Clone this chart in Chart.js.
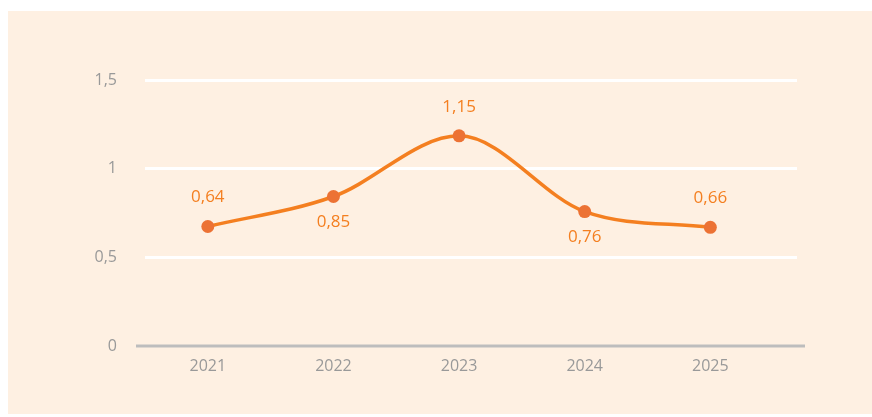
<!DOCTYPE html>
<html lang="en">
<head>
    <meta charset="UTF-8">
    <title>Yearly values</title>
    <script src="https://cdn.jsdelivr.net/npm/chart.js"></script>
    <style>
        html, body {
            margin: 0;
            padding: 0;
            background: #ffffff;
            width: 872px;
            height: 417px;
            overflow: hidden;
        }

        .panel {
            position: absolute;
            left: 8px;
            top: 11px;
            right: 0;
            bottom: 3px;
            background: #FEF0E2;
        }

        .chart-box {
            position: absolute;
            left: 0;
            top: 0;
            width: 872px;
            height: 417px;
        }
    </style>
</head>
<body>
    <div class="panel"></div>
    <div class="chart-box">
        <canvas id="lineChart" width="872" height="417"></canvas>
    </div>

    <script>
        // years on the x axis
        const years = [2021, 2022, 2023, 2024, 2025];
        // point heights
        const values = [0.674, 0.843, 1.185, 0.758, 0.669];
        // value labels as printed on the picture
        const valueLabels = ["0,64", "0,85", "1,15", "0,76", "0,66"];
        const yTicks = [0, 0.5, 1, 1.5];

        const fontFamily = "'Open Sans', sans-serif";

        // grey baseline at zero, a bit wider than the plot area
        const baseLine = {
            id: "baseLine",
            beforeDatasetsDraw(chart) {
                const { ctx, chartArea } = chart;
                const y = chart.scales.y.getPixelForValue(0);
                ctx.save();
                ctx.strokeStyle = "#BDBDBD";
                ctx.lineWidth = 3;
                ctx.beginPath();
                ctx.moveTo(chartArea.left - 9, y);
                ctx.lineTo(chartArea.right + 8, y);
                ctx.stroke();
                ctx.restore();
            }
        };

        // value labels, alternating above / below the points
        const valueLabelPlugin = {
            id: "valueLabels",
            afterDatasetsDraw(chart) {
                const { ctx } = chart;
                const meta = chart.getDatasetMeta(0);
                ctx.save();
                ctx.fillStyle = "#F47F20";
                ctx.font = "17px " + fontFamily;
                ctx.textAlign = "center";
                ctx.textBaseline = "middle";
                meta.data.forEach((pt, i) => {
                    const dy = i % 2 === 0 ? -29 : 26;
                    ctx.fillText(valueLabels[i], pt.x, pt.y + dy);
                });
                ctx.restore();
            }
        };

        const ctx = document.getElementById("lineChart").getContext("2d");

        new Chart(ctx, {
            type: "line",
            data: {
                datasets: [{
                    data: years.map((yr, i) => ({ x: yr, y: values[i] })),
                    borderColor: "#F47F20",
                    borderWidth: 3.5,
                    cubicInterpolationMode: "monotone",
                    pointRadius: 6.5,
                    pointBackgroundColor: "#EC7234",
                    pointBorderColor: "#EC7234",
                    pointBorderWidth: 0
                }]
            },
            options: {
                responsive: false,
                animation: false,
                events: [],
                layout: {
                    padding: { top: 80, right: 75, left: 0, bottom: 0 }
                },
                plugins: {
                    legend: { display: false },
                    tooltip: { enabled: false }
                },
                scales: {
                    x: {
                        type: "linear",
                        min: 2020.5,
                        max: 2025.69,
                        afterBuildTicks: scale => {
                            scale.ticks = years.map(v => ({ value: v }));
                        },
                        afterFit: scale => { scale.height = 71; },
                        grid: { display: false, drawTicks: false },
                        border: { display: false },
                        ticks: {
                            padding: 11,
                            color: "#999999",
                            font: { family: fontFamily, size: 16 },
                            callback: v => String(v)
                        }
                    },
                    y: {
                        min: 0,
                        max: 1.5,
                        afterBuildTicks: scale => {
                            scale.ticks = yTicks.map(v => ({ value: v }));
                        },
                        afterFit: scale => { scale.width = 145; },
                        grid: {
                            drawTicks: false,
                            lineWidth: 3,
                            color: c => c.tick && c.tick.value === 0 ? "rgba(0,0,0,0)" : "#FFFFFF"
                        },
                        border: { display: false },
                        ticks: {
                            padding: 28,
                            color: "#999999",
                            font: { family: fontFamily, size: 16 },
                            callback: v => String(v).replace(".", ",")
                        }
                    }
                }
            },
            plugins: [baseLine, valueLabelPlugin]
        });
    </script>
</body>
</html>
